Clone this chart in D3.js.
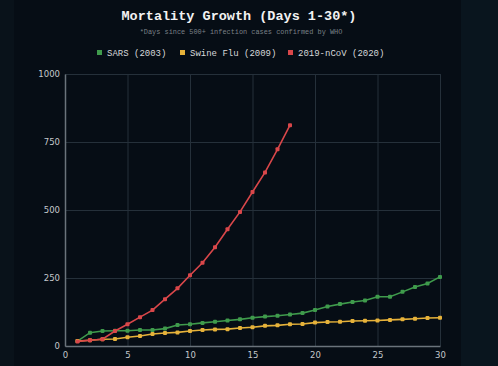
<!DOCTYPE html>
<html lang="en">
  <head>
    <meta charset="UTF-8" />
    <title>Mortality Growth</title>
    <style>
      body { margin: 0; background: #060d15; }
      svg { display: block; }
    </style>
  </head>
  <body>
    <svg id="chart" width="498" height="366"></svg>
    <script src="https://d3js.org/d3.v7.min.js"></script>
    <script>
      // values (cumulative deaths, day 1..n)
      const sars = [18, 49, 55, 56, 56, 59, 59, 64, 77, 80, 85, 89, 94, 98, 104,
        108, 111, 116, 121, 132, 145, 154, 162, 167, 181, 181, 199, 217, 230, 254];
      const swineFlu = [18, 21, 25, 26, 32, 37, 44, 48, 50, 55, 59, 61, 62, 66, 69,
        74, 76, 80, 81, 86, 88, 89, 92, 93, 94, 96, 98, 100, 103, 104];
      const ncov = [17, 21, 25, 55, 80, 106, 132, 172, 212, 260, 306, 363, 429, 493,
        566, 638, 723, 812];
      const seriesNames = ["SARS (2003)", "Swine Flu (2009)", "2019-nCoV (2020)"];
      const seriesColors = ["#3f9b4c", "#e6b23a", "#d9474a"];
      const xTicks = [0, 5, 10, 15, 20, 25, 30];
      const yTicks = [0, 250, 500, 750, 1000];

      const svg = d3.select("#chart");
      const mono = "'Liberation Mono', 'DejaVu Sans Mono', monospace";

      // background with the slightly lighter bands at the edges
      svg.append("rect").attr("width", 498).attr("height", 366).attr("fill", "#060d15");
      svg.append("rect").attr("x", 0).attr("width", 14).attr("height", 366).attr("fill", "#09121a");
      svg.append("rect").attr("x", 461).attr("width", 37).attr("height", 366).attr("fill", "#09151e");

      const x = d3.scaleLinear().domain([0, 30]).range([65, 440]);
      const y = d3.scaleLinear().domain([0, 1000]).range([346, 74]);

      // grid
      svg.append("g")
        .attr("transform", "translate(0,346)")
        .call(d3.axisBottom(x).tickValues(xTicks).tickSize(-272).tickFormat(""))
        .call((g) => g.select(".domain").remove())
        .call((g) => g.selectAll("line").attr("stroke", "#25303a"));
      svg.append("g")
        .attr("transform", "translate(65,0)")
        .call(d3.axisLeft(y).tickValues(yTicks).tickSize(-375).tickFormat(""))
        .call((g) => g.select(".domain").remove())
        .call((g) => g.selectAll("line").attr("stroke", "#25303a"));

      // axes
      svg.append("g")
        .attr("transform", "translate(0,346)")
        .call(d3.axisBottom(x).tickValues(xTicks).tickSize(0).tickPadding(6).tickFormat(d3.format("d")))
        .call((g) => g.select(".domain").attr("stroke", "#6a737b").attr("stroke-width", 1.5))
        .call((g) => g.selectAll("text").attr("fill", "#c4c8cc")
          .style("font-family", "'DejaVu Sans', sans-serif").style("font-size", "8.5px"));
      svg.append("g")
        .attr("transform", "translate(65,0)")
        .call(d3.axisLeft(y).tickValues(yTicks).tickSize(0).tickPadding(5).tickFormat(d3.format("d")))
        .call((g) => g.select(".domain").attr("stroke", "#6a737b").attr("stroke-width", 1.5))
        .call((g) => g.selectAll("text").attr("fill", "#c4c8cc")
          .style("font-family", "'DejaVu Sans', sans-serif").style("font-size", "8.5px"));

      // series
      const allSeries = [sars, swineFlu, ncov];
      const line = d3.line().x((d, i) => x(i + 1)).y((d) => y(d));
      allSeries.forEach((vals, k) => {
        const g = svg.append("g");
        g.append("path")
          .attr("d", line(vals))
          .attr("fill", "none")
          .attr("stroke", seriesColors[k])
          .attr("stroke-width", 1.6);
        g.selectAll("rect")
          .data(vals)
          .enter()
          .append("rect")
          .attr("x", (d, i) => x(i + 1) - 2)
          .attr("y", (d) => y(d) - 2)
          .attr("width", 4)
          .attr("height", 4)
          .attr("rx", 1)
          .attr("fill", seriesColors[k]);
      });

      // titles
      svg.append("text")
        .attr("x", 239).attr("y", 20)
        .attr("text-anchor", "middle")
        .attr("fill", "#f2f2f2")
        .style("font-family", mono).style("font-weight", "bold").style("font-size", "13.5px")
        .text("Mortality Growth (Days 1-30*)");
      svg.append("text")
        .attr("x", 241).attr("y", 33.5)
        .attr("text-anchor", "middle")
        .attr("fill", "#7a8086")
        .style("font-family", mono).style("font-size", "6.9px")
        .text("*Days since 500+ infection cases confirmed by WHO");

      // legend
      const legendX = [97, 180, 288];
      const legend = svg.selectAll(".leg").data(seriesNames).enter().append("g")
        .attr("transform", (d, i) => `translate(${legendX[i]},52.5)`);
      legend.append("rect")
        .attr("x", 0).attr("y", -2.5).attr("width", 5).attr("height", 5)
        .attr("fill", (d, i) => seriesColors[i]);
      legend.append("text")
        .attr("x", 10).attr("y", 3)
        .attr("fill", "#d6d8da")
        .style("font-family", mono).style("font-size", "9px")
        .text((d) => d);
    </script>
  </body>
</html>
